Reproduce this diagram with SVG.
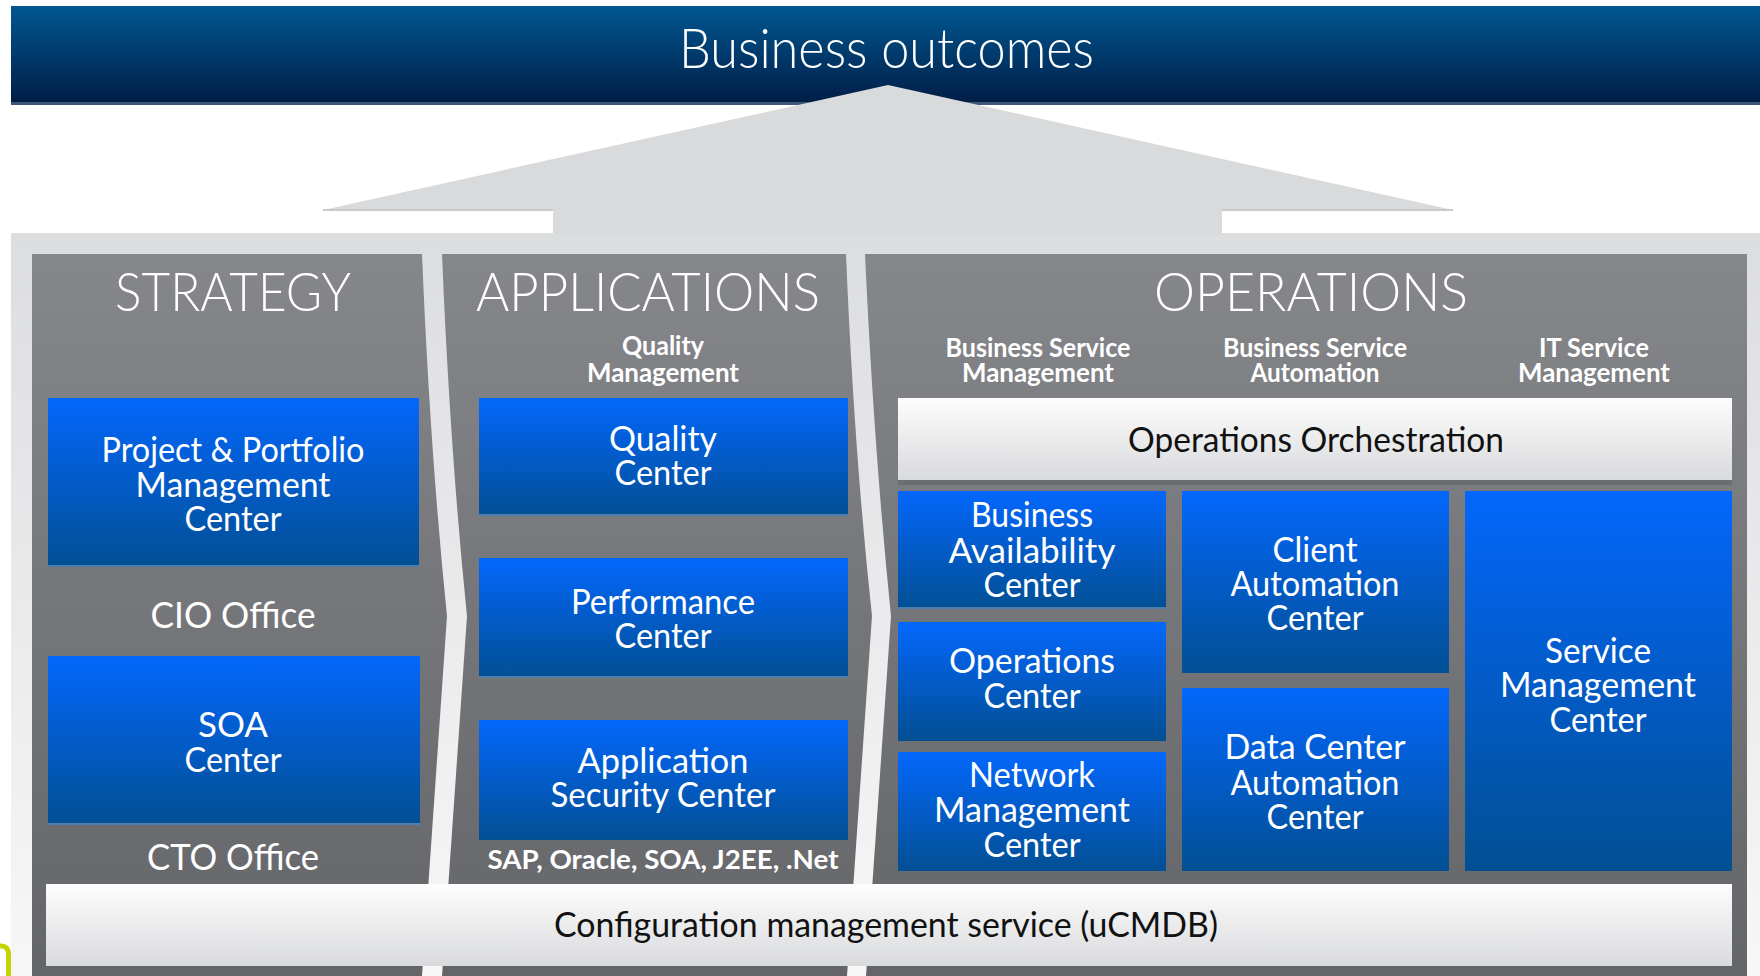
<svg xmlns="http://www.w3.org/2000/svg" width="1760" height="976" viewBox="0 0 1760 976">
<defs>
<linearGradient id="gBand" x1="0" y1="0" x2="0" y2="1"><stop offset="0" stop-color="#015792"/><stop offset="1" stop-color="#001d45"/></linearGradient>
<linearGradient id="gPanel" x1="0" y1="0" x2="0" y2="1"><stop offset="0" stop-color="#dcdddf"/><stop offset="1" stop-color="#f7f7f7"/></linearGradient>
<linearGradient id="gCol" gradientUnits="userSpaceOnUse" x1="0" y1="254" x2="0" y2="976"><stop offset="0" stop-color="#86878b"/><stop offset="1" stop-color="#646569"/></linearGradient>
<linearGradient id="gBlue" x1="0" y1="0" x2="0" y2="1"><stop offset="0" stop-color="#0367fc"/><stop offset="1" stop-color="#024f93"/></linearGradient>
<linearGradient id="gWhite" x1="0" y1="0" x2="0" y2="1"><stop offset="0" stop-color="#fdfdfd"/><stop offset="1" stop-color="#d9dadc"/></linearGradient>
</defs>
<style>
text { font-family: Lato, "Open Sans", "Liberation Sans", sans-serif; text-anchor: middle; }
.lt { fill: #ffffff; }
.hdr { font-size: 54px; font-weight: 300; }
.box { font-size: 35px; font-weight: 400; }
.sub { font-size: 26px; font-weight: 700; }
.off { font-size: 36px; font-weight: 400; }
.dk { fill: #111111; font-size: 35px; font-weight: 400; }
.blue { fill: url(#gBlue); }
.blue-edge { fill: #4f7fae; }
.col { fill: url(#gCol); }
.bar { fill: url(#gWhite); }
</style>

<rect x="0" y="0" width="1760" height="976" fill="#ffffff"/>

<g id="panel">
<rect x="11" y="233" width="1749" height="743" fill="url(#gPanel)"/>
</g>

<g id="business-outcomes">
<rect x="11" y="6" width="1749" height="98" fill="url(#gBand)"/>
<rect x="11" y="102" width="1749" height="3" fill="#3e5878"/>
<text class="lt" x="886.5" y="68" font-size="56" font-weight="300" textLength="415" lengthAdjust="spacingAndGlyphs">Business outcomes</text>
</g>

<g id="connectors">
<polygon points="888,85 1453,210 1222,210 1222,234 553,234 553,210 323,210" fill="#d9dadc"/>
<polyline points="323,210 553,210" stroke="#c9cacc" stroke-width="2" fill="none"/>
<polyline points="1222,210 1453,210" stroke="#c9cacc" stroke-width="2" fill="none"/>
</g>

<g id="strategy">
<path class="col" d="M32,254 L422,254 Q430,450 447,616 L422,976 L32,976 Z"/>
<text class="lt hdr" x="233" y="311" textLength="236" lengthAdjust="spacingAndGlyphs">STRATEGY</text>
<text class="lt off" x="233" y="628" textLength="165" lengthAdjust="spacingAndGlyphs">CIO Office</text>
<text class="lt off" x="233" y="870" textLength="172" lengthAdjust="spacingAndGlyphs">CTO Office</text>
</g>

<g id="ppm-center">
<rect class="blue" x="48" y="398" width="371" height="169"/>
<rect class="blue-edge" x="48" y="565" width="371" height="2"/>
<text class="lt box"><tspan x="233" y="462" textLength="263" lengthAdjust="spacingAndGlyphs">Project &amp; Portfolio</tspan><tspan x="233" y="497" textLength="195" lengthAdjust="spacingAndGlyphs">Management</tspan><tspan x="233" y="531" textLength="97" lengthAdjust="spacingAndGlyphs">Center</tspan></text>
</g>

<g id="soa-center">
<rect class="blue" x="48" y="656" width="372" height="169"/>
<rect class="blue-edge" x="48" y="823" width="372" height="2"/>
<text class="lt box"><tspan x="233" y="737" textLength="70" lengthAdjust="spacingAndGlyphs">SOA</tspan><tspan x="233" y="772" textLength="97" lengthAdjust="spacingAndGlyphs">Center</tspan></text>
</g>

<g id="applications">
<path class="col" d="M442,254 L846,254 Q854,450 872,616 L847,976 L442,976 L467,616 Q450,450 442,254 Z"/>
<text class="lt hdr" x="648" y="311" textLength="344" lengthAdjust="spacingAndGlyphs">APPLICATIONS</text>
<text class="lt sub"><tspan x="663" y="355" textLength="82" lengthAdjust="spacingAndGlyphs">Quality</tspan><tspan x="663" y="382" textLength="152" lengthAdjust="spacingAndGlyphs">Management</tspan></text>
<text class="lt sub" x="663" y="869" font-size="27" textLength="351" lengthAdjust="spacingAndGlyphs">SAP, Oracle, SOA, J2EE, .Net</text>
</g>

<g id="quality-center">
<rect class="blue" x="479" y="398" width="369" height="118"/>
<rect class="blue-edge" x="479" y="514" width="369" height="2"/>
<text class="lt box"><tspan x="663" y="451" textLength="108" lengthAdjust="spacingAndGlyphs">Quality</tspan><tspan x="663" y="485" textLength="97" lengthAdjust="spacingAndGlyphs">Center</tspan></text>
</g>

<g id="performance-center">
<rect class="blue" x="479" y="558" width="369" height="120"/>
<rect class="blue-edge" x="479" y="676" width="369" height="2"/>
<text class="lt box"><tspan x="663" y="614" textLength="184" lengthAdjust="spacingAndGlyphs">Performance</tspan><tspan x="663" y="648" textLength="97" lengthAdjust="spacingAndGlyphs">Center</tspan></text>
</g>

<g id="application-security-center">
<rect class="blue" x="479" y="720" width="369" height="120"/>
<text class="lt box"><tspan x="663" y="773" textLength="171" lengthAdjust="spacingAndGlyphs">Application</tspan><tspan x="663" y="807" textLength="225" lengthAdjust="spacingAndGlyphs">Security Center</tspan></text>
</g>

<g id="operations">
<path class="col" d="M865,254 L1747,254 L1747,976 L866,976 L891,616 Q874,450 865,254 Z"/>
<text class="lt hdr" x="1311" y="311" textLength="314" lengthAdjust="spacingAndGlyphs">OPERATIONS</text>
<text class="lt sub"><tspan x="1038" y="357" textLength="185" lengthAdjust="spacingAndGlyphs">Business Service</tspan><tspan x="1038" y="382" textLength="152" lengthAdjust="spacingAndGlyphs">Management</tspan></text>
<text class="lt sub"><tspan x="1315" y="357" textLength="184" lengthAdjust="spacingAndGlyphs">Business Service</tspan><tspan x="1315" y="382" textLength="129" lengthAdjust="spacingAndGlyphs">Automation</tspan></text>
<text class="lt sub"><tspan x="1594" y="357" textLength="110" lengthAdjust="spacingAndGlyphs">IT Service</tspan><tspan x="1594" y="382" textLength="152" lengthAdjust="spacingAndGlyphs">Management</tspan></text>
</g>

<g id="operations-orchestration">
<rect x="898" y="480" width="834" height="5" fill="#5c5d61" opacity="0.5"/>
<rect class="bar" x="898" y="398" width="834" height="82"/>
<text class="dk" x="1316" y="452" textLength="376" lengthAdjust="spacingAndGlyphs">Operations Orchestration</text>
</g>

<g id="business-availability-center">
<rect class="blue" x="898" y="491" width="268" height="118"/>
<rect class="blue-edge" x="898" y="607" width="268" height="2"/>
<text class="lt box"><tspan x="1032" y="527" textLength="122" lengthAdjust="spacingAndGlyphs">Business</tspan><tspan x="1032" y="563" textLength="167" lengthAdjust="spacingAndGlyphs">Availability</tspan><tspan x="1032" y="597" textLength="97" lengthAdjust="spacingAndGlyphs">Center</tspan></text>
</g>

<g id="operations-center">
<rect class="blue" x="898" y="622" width="268" height="119"/>
<text class="lt box"><tspan x="1032" y="673" textLength="166" lengthAdjust="spacingAndGlyphs">Operations</tspan><tspan x="1032" y="708" textLength="97" lengthAdjust="spacingAndGlyphs">Center</tspan></text>
</g>

<g id="network-management-center">
<rect class="blue" x="898" y="752" width="268" height="119"/>
<text class="lt box"><tspan x="1032" y="787" textLength="126" lengthAdjust="spacingAndGlyphs">Network</tspan><tspan x="1032" y="822" textLength="196" lengthAdjust="spacingAndGlyphs">Management</tspan><tspan x="1032" y="857" textLength="97" lengthAdjust="spacingAndGlyphs">Center</tspan></text>
</g>

<g id="client-automation-center">
<rect class="blue" x="1182" y="491" width="267" height="182"/>
<text class="lt box"><tspan x="1315" y="562" textLength="85" lengthAdjust="spacingAndGlyphs">Client</tspan><tspan x="1315" y="596" textLength="169" lengthAdjust="spacingAndGlyphs">Automation</tspan><tspan x="1315" y="630" textLength="97" lengthAdjust="spacingAndGlyphs">Center</tspan></text>
</g>

<g id="data-center-automation-center">
<rect class="blue" x="1182" y="688" width="267" height="183"/>
<text class="lt box"><tspan x="1315" y="759" textLength="181" lengthAdjust="spacingAndGlyphs">Data Center</tspan><tspan x="1315" y="795" textLength="169" lengthAdjust="spacingAndGlyphs">Automation</tspan><tspan x="1315" y="829" textLength="97" lengthAdjust="spacingAndGlyphs">Center</tspan></text>
</g>

<g id="service-management-center">
<rect class="blue" x="1465" y="491" width="267" height="380"/>
<text class="lt box"><tspan x="1598" y="663" textLength="106" lengthAdjust="spacingAndGlyphs">Service</tspan><tspan x="1598" y="697" textLength="196" lengthAdjust="spacingAndGlyphs">Management</tspan><tspan x="1598" y="732" textLength="97" lengthAdjust="spacingAndGlyphs">Center</tspan></text>
</g>

<g id="configuration-management-service">
<rect class="bar" x="46" y="884" width="1686" height="82"/>
<text class="dk" x="886" y="937" font-size="34" textLength="664" lengthAdjust="spacingAndGlyphs">Configuration management service (uCMDB)</text>
</g>

<path d="M0,946 Q8.5,945 8.5,955 L8.5,976" stroke="#c4d400" stroke-width="5" fill="none"/>
</svg>
